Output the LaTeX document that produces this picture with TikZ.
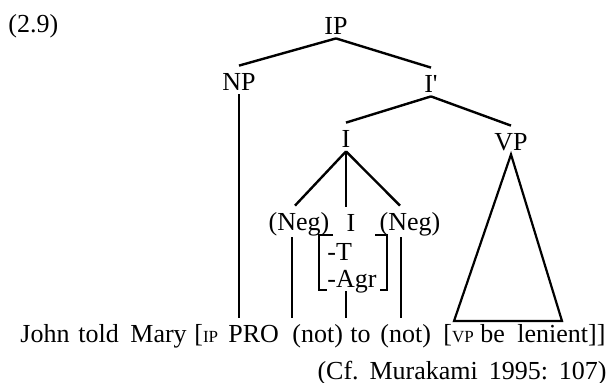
\documentclass[tikz,border=0pt]{standalone}
\usepackage{fontspec}
\setmainfont{Liberation Serif}
\usetikzlibrary{calc}
% small capitals used for the bracket labels
\newcommand\bracketlab[1]{{\fontsize{8.5}{9}\selectfont #1}}
\begin{document}
\begin{tikzpicture}[x=0.5pt,y=-0.5pt,
  lbl/.style={font=\fontsize{13}{15}\selectfont, inner xsep=0pt, inner ysep=2pt,
              text height=10pt, text depth=0pt, anchor=base},
  word/.style={lbl, anchor=base west},
  branch/.style={line width=1.2pt},
  stem/.style={line width=0.8pt},
  tri/.style={line width=1.1pt, line join=miter}]
\useasboundingbox (0,0) rectangle (609,382);

% example number
\node[lbl, anchor=base west] (ex) at (8,32) {(2.9)};

% tree labels
\node[lbl] (IP)   at (336,34)  {IP};
\node[lbl] (NP)   at (239,90)  {NP};
\node[lbl] (Ibar) at (431,92)  {I\textquotesingle};
\node[lbl] (I)    at (346,147) {I};
\node[lbl] (VP)   at (511,150) {VP};
\node[lbl, text depth=1.5pt] (negL) at (299,230) {(Neg)};
\node[lbl] (Iin)  at (351,231) {I};
\node[lbl, text depth=1.5pt] (negR) at (410,230) {(Neg)};
\node[lbl, anchor=base west] (T)   at (327,260) {-T};
\node[lbl, anchor=base west] (Agr) at (327,287) {-Agr};

% the sentence
\node[word] (john)    at (20,342)  {John};
\node[word] (told)    at (78,342)  {told};
\node[word] (mary)    at (130,342) {Mary};
\node[word] (lbIP)    at (194,342) {[\bracketlab{IP}};
\node[word] (PRO)     at (228,342) {PRO};
\node[word] (not1)    at (292,342) {(not)};
\node[word] (to)      at (350,342) {to};
\node[word] (not2)    at (380,342) {(not)};
\node[word] (lbVP)    at (443,342) {[\bracketlab{VP}};
\node[word] (be)      at (480,342) {be};
\node[word] (lenient) at (517,342) {lenient]]};

% source
\node[lbl, anchor=base east] (cite) at (607,379)
  {\frenchspacing\spaceskip=.42em (Cf. Murakami 1995: 107)};

% branches
\draw[branch] (IP.south) -- (NP.north);
\draw[branch] (IP.south) -- (Ibar.north);
\draw[branch] (Ibar.south) -- (I.north);
\draw[branch] (Ibar.south) -- (VP.north);
\draw[branch] (I.south) -- ($(negL.north)+(-4,0)$);
\draw[branch] (I.south) -- (I.south |- Iin.north);
\draw[branch] (I.south) -- ($(negR.north)+(-10,0)$);

% lines down to the words
\coordinate (nr) at ($(not2.north west)+(21,0)$);
\draw[stem] (NP.south) -- (NP.south |- PRO.north);
\draw[stem] (not1.north west |- negL.south) -- (not1.north west);
\draw[stem] (nr |- negR.south) -- (nr);
\draw[stem] (I.south |- Agr.south) -- (I.south |- to.north);

% feature bracket
\draw[stem] (333,235) -- (319,235) -- (319,290) -- (327,290);
\draw[stem] (375,235) -- (387,235) -- (387,290) -- (380,290);

% VP triangle
\coordinate (tl) at (454,321);
\coordinate (tr) at (562,321);
\draw[tri] (VP.south) -- (tl) -- (tr) -- cycle;
\end{tikzpicture}
\end{document}
